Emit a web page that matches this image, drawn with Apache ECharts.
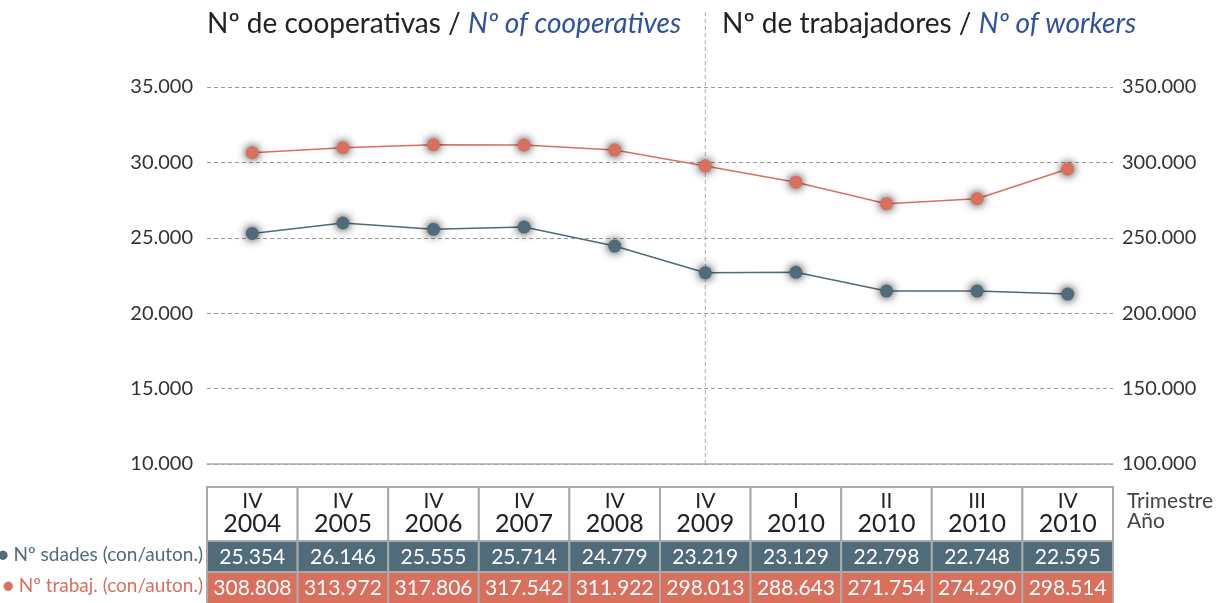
<!DOCTYPE html>
<html>
<head>
<meta charset="utf-8">
<script src="https://cdn.jsdelivr.net/npm/echarts@6/dist/echarts.min.js"></script>
<style>
  html, body { margin: 0; padding: 0; background: #fff; }
  #main { width: 1232px; height: 603px; }
</style>
</head>
<body>
<div id="main"></div>
<script>
// periods (trimestre / año)
const quarters = ['IV', 'IV', 'IV', 'IV', 'IV', 'IV', 'I', 'II', 'III', 'IV']
const years = ['2004', '2005', '2006', '2007', '2008', '2009', '2010', '2010', '2010', '2010']

// values as plotted in the lines
const coopPlotted = [25290, 25980, 25560, 25710, 24450, 22680, 22710, 21470, 21470, 21270]
const workersPlotted = [306400, 309700, 311700, 311500, 308200, 297600, 286900, 272600, 275900, 295600]

// values written in the table
const coopTable = [25354, 26146, 25555, 25714, 24779, 23219, 23129, 22798, 22748, 22595]
const workersTable = [308808, 313972, 317806, 317542, 311922, 298013, 288643, 271754, 274290, 298514]

const dividerIndex = 5 // IV 2009

const BLUE = '#506b79'
const RED = '#d9705e'
const FONT = 'Lato, "Open Sans", sans-serif'

// 35000 -> '35.000'
const fmt = (v) => String(Math.round(v)).replace(/\B(?=(\d{3})+(?!\d))/g, '.')

const chart = echarts.init(document.getElementById('main'))

const titleRich = {
  a: { fontFamily: FONT, fontSize: 28, fontWeight: 'normal', color: '#222' },
  b: { fontFamily: FONT, fontSize: 28, fontWeight: 'normal', color: '#2f4f9f', fontStyle: 'italic' }
}

const option = {
  animation: false,
  title: [
    {
      left: 207,
      top: 10,
      padding: 0,
      text: '{a|Nº de cooperativas / }{b|Nº of cooperatives}',
      textStyle: { fontWeight: 'normal', rich: titleRich }
    },
    {
      left: 722,
      top: 10,
      padding: 0,
      text: '{a|Nº de trabajadores / }{b|Nº of workers}',
      textStyle: { fontWeight: 'normal', rich: titleRich }
    }
  ],
  grid: {
    left: 207,
    right: 119,
    top: 87,
    bottom: 139
  },
  xAxis: {
    type: 'category',
    boundaryGap: true,
    data: quarters.map((q, i) => q + ' ' + years[i]),
    axisLine: { lineStyle: { color: '#aaa', width: 1.5 } },
    axisTick: { alignWithLabel: true, length: 15, lineStyle: { color: '#aaa', width: 1.5 } },
    axisLabel: { show: false }
  },
  yAxis: [
    {
      type: 'value',
      min: 10000,
      max: 35000,
      interval: 5000,
      axisLabel: {
        formatter: fmt,
        fontFamily: FONT,
        fontSize: 20,
        color: '#333',
        margin: 14
      },
      splitLine: { lineStyle: { color: '#999', type: [4, 3], width: 1 } }
    },
    {
      type: 'value',
      min: 100000,
      max: 350000,
      interval: 50000,
      axisLabel: {
        formatter: fmt,
        fontFamily: FONT,
        fontSize: 20,
        color: '#333',
        margin: 9
      },
      splitLine: { show: false }
    }
  ],
  series: [
    {
      name: 'Nº sdades (con/auton.)',
      type: 'line',
      yAxisIndex: 0,
      data: coopPlotted,
      z: 3,
      symbol: 'circle',
      symbolSize: 13,
      lineStyle: { color: BLUE, width: 1.5 },
      itemStyle: { color: BLUE, shadowBlur: 10, shadowColor: 'rgba(0,0,0,0.9)' }
    },
    {
      name: 'Nº trabaj. (con/auton.)',
      type: 'line',
      yAxisIndex: 1,
      data: workersPlotted,
      z: 3,
      symbol: 'circle',
      symbolSize: 13,
      lineStyle: { color: RED, width: 1.5 },
      itemStyle: { color: RED, shadowBlur: 10, shadowColor: 'rgba(0,0,0,0.9)' }
    },
    {
      // data table under the axis + divider line
      type: 'custom',
      yAxisIndex: 0,
      z: 1,
      clip: false,
      silent: true,
      data: quarters.map((_, i) => [i, 10000]),
      renderItem: (params, api) => {
        const i = api.value(0)
        const cs = params.coordSys
        const x = api.coord([i, 10000])[0]
        const w = api.size([1, 0])[0]
        const left = x - w / 2
        const top = cs.y + cs.height + 23
        const children = [
          {
            type: 'rect',
            shape: { x: left, y: top, width: w, height: 54 },
            style: { fill: '#fff', stroke: '#aaa', lineWidth: 2 }
          },
          {
            type: 'text',
            style: {
              text: quarters[i], x: x, y: top + 14, align: 'center', verticalAlign: 'middle',
              font: '21px ' + FONT, fill: '#222'
            }
          },
          {
            type: 'text',
            style: {
              text: years[i], x: x, y: top + 37, align: 'center', verticalAlign: 'middle',
              font: '25px ' + FONT, fill: '#222'
            }
          },
          {
            type: 'rect',
            shape: { x: left, y: top + 54, width: w, height: 31 },
            style: { fill: BLUE, stroke: '#aaa', lineWidth: 2 }
          },
          {
            type: 'text',
            style: {
              text: fmt(coopTable[i]), x: x, y: top + 70, align: 'center', verticalAlign: 'middle',
              font: '21px ' + FONT, fill: '#fff'
            }
          },
          {
            type: 'rect',
            shape: { x: left, y: top + 85, width: w, height: 32 },
            style: { fill: RED, stroke: '#aaa', lineWidth: 2 }
          },
          {
            type: 'text',
            style: {
              text: fmt(workersTable[i]), x: x, y: top + 101, align: 'center', verticalAlign: 'middle',
              font: '21px ' + FONT, fill: '#fff'
            }
          }
        ]
        if (i === dividerIndex) {
          children.push({
            type: 'line',
            shape: { x1: x, y1: 12, x2: x, y2: cs.y + cs.height },
            style: { stroke: '#aaa', lineWidth: 1, lineDash: [4, 3] }
          })
        }
        return { type: 'group', children: children }
      }
    }
  ],
  graphic: [
    {
      type: 'text',
      right: 1232 - 203,
      top: 545,
      style: { text: '● Nº sdades (con/auton.)', font: '19px ' + FONT, fill: BLUE }
    },
    {
      type: 'text',
      right: 1232 - 203,
      top: 576,
      style: { text: '● Nº trabaj. (con/auton.)', font: '19px ' + FONT, fill: RED }
    },
    {
      type: 'text',
      left: 1127,
      top: 491,
      style: { text: 'Trimestre\nAño', font: '21px ' + FONT, fill: '#444', lineHeight: 20 }
    }
  ]
}

chart.setOption(option)
</script>
</body>
</html>
